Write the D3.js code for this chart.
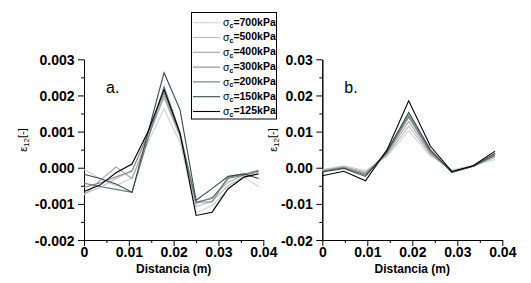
<!DOCTYPE html>
<html>
<head>
<meta charset="utf-8">
<script src="https://cdn.jsdelivr.net/npm/d3@7"></script>
<style>
  body { margin: 0; background: #fff; }
  svg { display: block; font-family: 'Liberation Sans', Arial, sans-serif; }
  .tick text { font-size: 14px; font-weight: bold; fill: #000; }
  .domain, .tick line { stroke: #000; stroke-width: 1; }
</style>
</head>
<body>
<div id="chart"></div>
<script>
// pressures in the legend, lightest to darkest
const pressures = ['700', '500', '400', '300', '200', '150', '125'];
const colors = ['#d2d2d2', '#bcbcbc', '#a6a6a6', '#8a8a8a', '#6a7979', '#344a4a', '#000000'];

// panel a. distances (m) and strain e12 [-]
const distA = [0, 0.00357, 0.00714, 0.01071, 0.01429, 0.01786, 0.02143, 0.025, 0.02857, 0.03214, 0.03571, 0.03893];
const a700 = [-0.00005, -0.00030, -0.00050, -0.00028, 0.00070, 0.00163, 0.00070, -0.00125, -0.00105, -0.00060, -0.00025, -0.00052];
const a500 = [-0.00072, -0.00055, -0.00030, -0.00008, 0.00088, 0.00193, 0.00085, -0.00108, -0.00092, -0.00050, -0.00024, -0.00010];
const a400 = [-0.00076, -0.00035, 0.00002, -0.00030, 0.00082, 0.00200, 0.00090, -0.00100, -0.00082, -0.00040, -0.00020, -0.00012];
const a300 = [-0.00055, -0.00042, -0.00025, -0.00010, 0.00095, 0.00208, 0.00092, -0.00095, -0.00095, -0.00026, -0.00018, -0.00007];
const a200 = [-0.00043, -0.00052, -0.00060, -0.00068, 0.00080, 0.00225, 0.00098, -0.00095, -0.00085, -0.00030, -0.00020, -0.00010];
const a150 = [-0.00018, -0.00030, -0.00045, -0.00068, 0.00098, 0.00263, 0.00160, -0.00090, -0.00058, -0.00024, -0.00017, -0.00030];
const a125 = [-0.00066, -0.00048, -0.00014, 0.00010, 0.00100, 0.00216, 0.00095, -0.00132, -0.00123, -0.00058, -0.00026, -0.00017];

// panel b. distances (m) and strain e12 [-]
const distB = [0, 0.0048, 0.0096, 0.0144, 0.0192, 0.024, 0.0288, 0.0336, 0.0384];
const b700 = [-0.0005, 0.0005, -0.0008, 0.0032, 0.0102, 0.0033, -0.0006, 0.0006, 0.0023];
const b500 = [-0.0007, 0.0003, -0.0012, 0.0035, 0.0115, 0.0037, -0.0008, 0.0005, 0.0028];
const b400 = [-0.0008, 0.0002, -0.0015, 0.0038, 0.0128, 0.0040, -0.0009, 0.0005, 0.0031];
const b300 = [-0.0009, 0.0000, -0.0018, 0.0041, 0.0140, 0.0043, -0.0010, 0.0004, 0.0034];
const b200 = [-0.0010, -0.0001, -0.0020, 0.0043, 0.0145, 0.0046, -0.0012, 0.0005, 0.0036];
const b150 = [-0.0012, -0.0002, -0.0024, 0.0046, 0.0153, 0.0050, -0.0013, 0.0004, 0.0040];
const b125 = [-0.0022, -0.0010, -0.0036, 0.0050, 0.0185, 0.0060, -0.0011, 0.0006, 0.0046];

// axis ticks
const xTicks = [0, 0.01, 0.02, 0.03, 0.04];
const xLabels = ['0', '0.01', '0.02', '0.03', '0.04'];
const yTicksA = [-0.002, -0.001, 0, 0.001, 0.002, 0.003];
const yLabelsA = ['-0.002', '-0.001', '0.000', '0.001', '0.002', '0.003'];
const yTicksB = [-0.02, -0.01, 0, 0.01, 0.02, 0.03];
const yLabelsB = ['-0.02', '-0.01', '0.00', '0.01', '0.02', '0.03'];

const svg = d3.select('#chart').append('svg')
  .attr('width', 531)
  .attr('height', 283);

function panel(opt) {
  const x = d3.scaleLinear().domain([0, 0.04]).range([opt.left, opt.right]);
  const y = d3.scaleLinear().domain([opt.yTicks[0], opt.yTicks[opt.yTicks.length - 1]]).range([240, 59.3]);
  const g = svg.append('g');

  // minor ticks first
  const xMinor = d3.range(4).map(i => xTicks[i] + 0.005);
  const yMinor = d3.range(opt.yTicks.length - 1).map(i => (opt.yTicks[i] + opt.yTicks[i + 1]) / 2);
  g.append('g').attr('transform', 'translate(0,240)')
    .call(d3.axisBottom(x).tickValues(xMinor).tickSize(3).tickSizeOuter(0).tickFormat(''));
  g.append('g').attr('transform', `translate(${opt.left},0)`)
    .call(d3.axisLeft(y).tickValues(yMinor).tickSize(3).tickSizeOuter(0).tickFormat(''));

  g.append('g').attr('transform', 'translate(0,240)')
    .call(d3.axisBottom(x).tickValues(xTicks).tickSize(6).tickSizeOuter(0).tickPadding(1.5)
      .tickFormat((d, i) => xLabels[i]));
  g.append('g').attr('transform', `translate(${opt.left},0)`)
    .call(d3.axisLeft(y).tickValues(opt.yTicks).tickSize(6).tickSizeOuter(0).tickPadding(3.5)
      .tickFormat((d, i) => opt.yLabels[i]))
    .selectAll('.tick text').attr('dy', '0.36em');

  const line = d3.line().x(d => x(d[0])).y(d => y(d[1]));
  opt.series.forEach((vals, k) => {
    g.append('path')
      .datum(opt.dist.map((d, i) => [d, vals[i]]))
      .attr('fill', 'none')
      .attr('stroke', colors[k])
      .attr('stroke-width', 1.1)
      .attr('d', line);
  });

  // panel letter
  g.append('text')
    .attr('x', opt.left + 22)
    .attr('y', 93)
    .style('font-size', '16px')
    .text(opt.letter);

  // x title
  g.append('text')
    .attr('x', (opt.left + opt.right) / 2)
    .attr('y', 273)
    .attr('text-anchor', 'middle')
    .style('font-size', '12px')
    .style('font-weight', 'bold')
    .text('Distancia (m)');

  // y title
  const yt = g.append('text')
    .attr('transform', `translate(${opt.yTitleX},140) rotate(-90)`)
    .attr('text-anchor', 'middle')
    .attr('dy', '0.35em')
    .style('font-size', '11px');
  yt.append('tspan').text('\u03b5');
  yt.append('tspan').attr('dy', '0.3em').style('font-size', '8px').text('12');
  yt.append('tspan').attr('dy', '-0.3em').text('[-]');
}

panel({
  left: 84, right: 263.3, dist: distA,
  series: [a700, a500, a400, a300, a200, a150, a125],
  yTicks: yTicksA, yLabels: yLabelsA, letter: 'a.', yTitleX: 23
});
panel({
  left: 322.3, right: 502.3, dist: distB,
  series: [b700, b500, b400, b300, b200, b150, b125],
  yTicks: yTicksB, yLabels: yLabelsB, letter: 'b.', yTitleX: 273
});

// legend box on top of both panels
const legend = svg.append('g');
legend.append('rect')
  .attr('x', 191.5).attr('y', 12.5)
  .attr('width', 85).attr('height', 106.5)
  .attr('fill', '#fff')
  .attr('stroke', '#000');

pressures.forEach((p, k) => {
  const ly = 22.7 + k * 14.8;
  legend.append('line')
    .attr('x1', 193).attr('x2', 220)
    .attr('y1', ly).attr('y2', ly)
    .attr('stroke', colors[k])
    .attr('stroke-width', 1.1);
  const t = legend.append('text')
    .attr('x', 223).attr('y', ly)
    .attr('dy', '0.35em')
    .style('font-size', '10.5px')
    .style('font-weight', 'bold');
  t.append('tspan').style('font-weight', 'normal').text('\u03c3');
  t.append('tspan').attr('dy', '0.25em').style('font-size', '7px').text('c');
  t.append('tspan').attr('dy', '-0.25em').text(`=${p}kPa`);
});
</script>
</body>
</html>
